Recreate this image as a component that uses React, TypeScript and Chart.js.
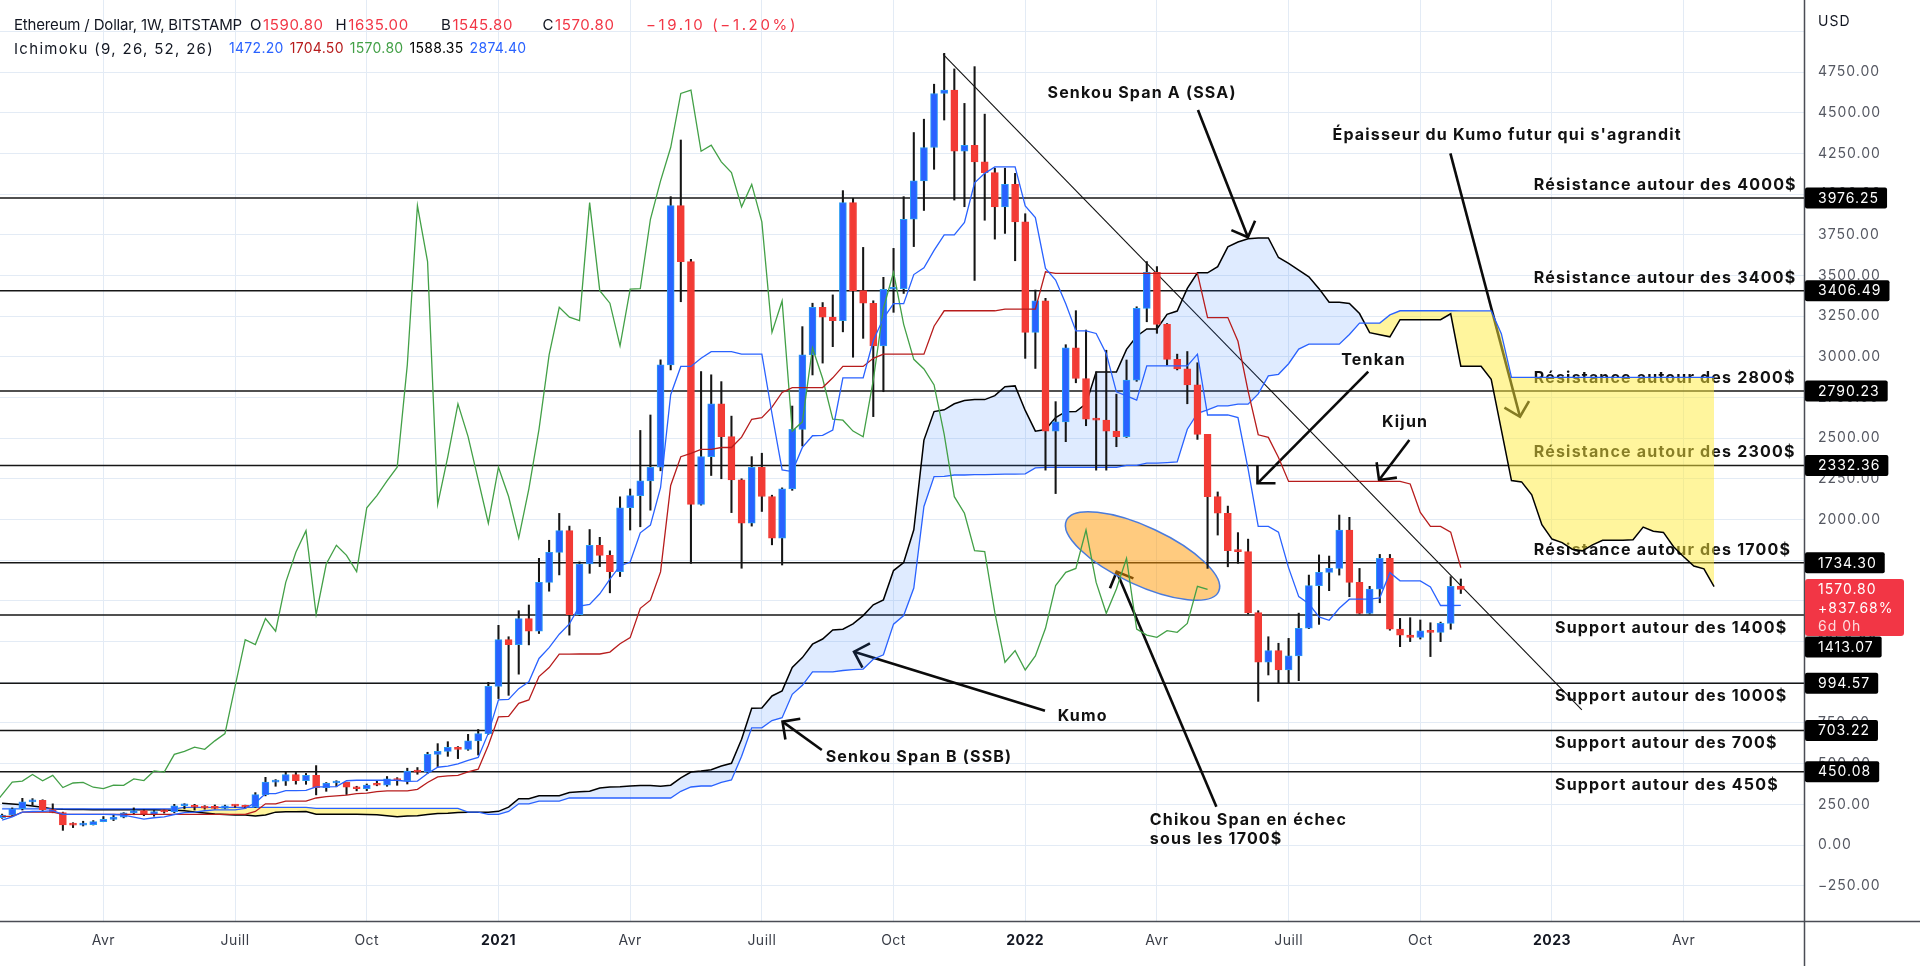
import { useEffect, useRef } from "react";
import { Chart, registerables } from "chart.js";

Chart.register(...registerables);

// ---------------- DATA (weekly candles, ETH/USD Bitstamp, week of 27 Jan 2020 -> 31 Oct 2022) ----------------
const opens = [168,184,223,265,274,217,200,123,122,125,
144,158,171,197,211,187,206,204,241,244,
232,227,225,240,239,232,310,386,393,433,
395,428,353,381,385,355,346,368,367,406,
396,455,448,557,575,601,588,640,685,975,
1262,1232,1392,1314,1614,1799,1932,1416,1727,1842,
1780,1680,2073,2147,2238,2322,2951,3930,3586,2094,
2387,2711,2510,2244,1978,2322,2142,1886,2189,2555,
3012,3305,3244,3223,3948,3407,3330,3068,3416,3420,
3846,4082,4287,4619,4640,4264,4301,4199,4133,3922,
4060,3830,3151,3344,2544,2601,3055,2867,2617,2611,
2544,2509,2857,3298,3520,3200,2985,2926,2828,2524,
2141,2039,1809,1803,1428,1123,1195,1076,1162,1332,
1594,1676,1700,1936,1614,1424,1573,1762,1327,1290,
1276,1317,1307,1362,1590.8];

const highs = [190,228,287,285,278,253,202,137,146,150,
175,187,199,228,216,212,215,250,254,250,
242,246,245,246,245,322,416,402,449,446,
440,488,384,395,386,361,375,395,421,414,
472,476,570,623,635,605,680,710,1000,1350,
1280,1440,1475,1762,1873,2038,1960,1740,1939,1891,
1808,2140,2188,2548,2643,2982,3985,4333,3600,2910,
2890,2848,2636,2251,2387,2408,2150,2195,2698,3186,
3330,3334,3381,4022,3975,3673,3345,3489,3667,3985,
4379,4461,4676,4866,4770,4558,4784,4492,4160,4160,
4128,3880,3411,3360,2725,3075,3284,3165,2908,3041,
2771,2981,3308,3586,3555,3205,3017,3033,2964,2524,
2170,2083,1920,1880,1440,1280,1240,1270,1425,1659,
1783,1776,2028,2014,1700,1590,1786,1786,1393,1397,
1383,1366,1370,1649,1635];

const lows = [164,180,215,244,212,198,90,107,117,123,
143,150,167,186,180,177,196,198,222,215,
220,220,222,232,226,230,302,361,366,374,
373,308,330,358,310,333,334,364,361,367,
375,435,440,482,545,531,582,553,680,900,
920,1050,1230,1300,1560,1660,1290,1410,1670,1711,
1550,1650,1936,1956,2058,2300,2920,3339,1731,2089,
2271,2251,2043,1701,1960,2050,1845,1721,2180,2452,
2889,2962,3063,3154,2998,3114,2633,2786,3274,3390,
3678,3900,4153,4456,3964,3923,3470,3840,3724,3759,
3591,2991,2929,2304,2160,2479,2841,2577,2304,2304,
2448,2505,2850,3216,3145,2950,2920,2712,2493,1700,
1905,1710,1731,1420,882.8,1045,994,994,1010,1330,
1356,1563,1659,1526,1420,1420,1489,1320,1219,1250,
1266,1158,1250,1326,1545.8];

const closes = [184,223,265,274,217,200,123,122,125,144,
158,171,197,211,187,206,204,241,244,232,
227,225,240,239,232,310,386,393,433,395,
428,353,381,385,355,346,368,367,406,396,
455,448,557,575,601,588,640,685,975,1262,
1232,1392,1314,1614,1799,1932,1416,1727,1842,1780,
1680,2073,2147,2238,2322,2951,3930,3586,2094,2387,
2711,2510,2244,1978,2322,2142,1886,2189,2555,3012,
3305,3244,3223,3948,3407,3330,3068,3416,3420,3846,
4082,4287,4619,4640,4264,4301,4199,4133,3922,4060,
3830,3151,3344,2544,2601,3055,2867,2617,2611,2544,
2509,2857,3298,3520,3200,2985,2926,2828,2524,2141,
2039,1809,1803,1428,1123,1195,1076,1162,1332,1594,
1676,1700,1936,1614,1424,1573,1762,1327,1290,1276,
1317,1307,1362,1589.9,1570.8];

// Ichimoku (9, 26, 52, 26)
const tenkan = [153.5,172.5,202,206,207,210.5,188.5,188.5,188.5,188.5,
188.5,187.5,184,171.5,159,167.5,172.5,187.5,198.5,202,
210.5,215.5,215.5,215.5,225,260,315.5,315.5,334.5,334.5,
335.5,357,357,359,395,398,398,398,398,398,
391,393,440,478,484.5,498,520.5,538.5,687.5,892.5,
895,961,1003,1146.5,1213,1295.5,1359,1469,1479,1544,
1634,1715,1739,1919,1966.5,2196,2767.5,2941.5,2941.5,2991.5,
3032,3032,3032,3017,3017,3017,2650.5,2305.5,2295.5,2443.5,
2515.5,2517.5,2551,2871.5,2871.5,2871.5,3101,3237,3327.5,3327.5,
3506,3547,3654.5,3749.5,3749.5,3826,4070,4128,4168,4168,
4168,3928.5,3856.5,3544,3472,3326,3160,3160,3144,3020,
2785.5,2760,2734,2945,2945,2945,2945,2945,3017,2643,
2643,2643,2627.5,2312.5,1957.9,1957.9,1923.4,1703.4,1526.4,1482.9,
1401.4,1381.4,1455.4,1511,1511,1511,1519,1674,1623.5,1623.5,
1623.5,1586,1472,1472,1472.2];

const kijun = [176,176,202,202,202,202,188.5,188.5,188.5,188.5,
188.5,188.5,188.5,188.5,188.5,188.5,188.5,188.5,188.5,188.5,
188.5,188.5,188.5,188.5,188.5,206,253,253,269.5,269.5,
269.5,289,297.5,302.5,306.5,315.5,319,327.5,332.5,332.5,
332.5,342,384,419,425,427.5,450,466,613,788,
790,871,891.5,1035,1090.5,1173,1173,1174,1174,1174,
1185.5,1237,1274.5,1454.5,1505,1678.5,2210,2386.5,2407.5,2432,
2432,2443,2443,2506.5,2616.5,2626.5,2691.5,2781.5,2811.5,2811.5,
2811.5,2811.5,2871.5,2941.5,2941.5,2941.5,2991.5,3017,3017,3017,
3017,3017,3188.5,3283.5,3283.5,3283.5,3283.5,3283.5,3283.5,3293.5,
3293.5,3293.5,3293.5,3523,3513,3513,3513,3513,3513,3513,
3513,3513,3513,3513,3513,3513,3513,3513,3513,3242,
3242,3242,3096,2790,2521.4,2505.4,2381.4,2234.4,2234.4,2234.4,
2234.4,2234.4,2234.4,2234.4,2234.4,2234.4,2234.4,2234.4,2234.4,2218.9,
2043.9,1957.9,1957.9,1923.4,1704.5];

// Senkou spans, one value per displayed bar (0 .. 169, i.e. 25 bars beyond the last candle)
const senkouA = [256,252,247,240,232,222,219,218,218,217,
217,217,217,216,216,216,215,214,210,203,
196,190,187,185,184,178,185,202,204,204.5,
206.25,188.5,188.5,188.5,188.5,188.5,188,186.25,180,173.75,
178,180.5,188,193.5,195.25,199.5,202,202,202,206.75,
233,284.25,284.25,302,302,302.5,323,327.25,330.75,350.75,
356.75,358.5,362.75,365.25,365.25,361.75,367.5,412,448.5,454.75,
462.75,485.25,502.25,650.25,840.25,842.5,916,947.25,1090.75,1151.75,
1234.25,1266,1321.5,1326.5,1359,1409.75,1476,1506.75,1686.75,1735.75,
1937.25,2488.75,2664,2674.5,2711.75,2732,2737.5,2737.5,2761.75,2816.75,
2821.75,2671,2543.5,2553.5,2627.5,2663.5,2664.5,2711.25,2906.5,2906.5,
2906.5,3046.25,3127,3172.25,3172.25,3261.5,3282,3421.5,3516.5,3516.5,
3554.75,3676.75,3705.75,3725.75,3730.75,3730.75,3611,3575,3533.5,3492.5,
3419.5,3336.5,3336.5,3328.5,3266.5,3149.25,3136.5,3123.5,3229,3229,
3229,3229,3229,3265,2942.5,2942.5,2942.5,2861.75,2551.25,2239.65,
2231.65,2152.4,1968.9,1880.4,1858.65,1817.9,1807.9,1844.9,1872.7,1872.7,
1872.7,1876.7,1954.2,1928.95,1921.2,1833.7,1771.95,1714.95,1697.7,1588.35];

const senkouB = [221.5,221.5,221.5,221.5,221.5,221.5,221.5,221.5,221.5,221.5,
221.5,221.5,221.5,221.5,221.5,221.5,221.5,221.5,231.5,231.5,
231.5,231.5,231.5,231.5,231.5,231.5,231.5,231.5,231.5,231.5,
231.5,225.5,225.5,225.5,225.5,225.5,225.5,225.5,225.5,225.5,
225.5,225.5,225.5,225.5,225.5,225.5,202.5,202.5,188.5,188.5,
206,253,253,269.5,269.5,269.5,289,289,289,289,
289,289,289,289,289,289,289,330,356.5,362.5,
362.5,385,400,545,720,720,765,782.5,926,981.5,
1064,1064,1064,1072.5,1077.5,1081.5,1141.5,1169,1357.5,1410,
1579.5,2081,2264.5,2265.5,2274,2274,2276.5,2276.5,2277.5,2279.5,
2279.5,2281.5,2317.5,2320.5,2320.5,2320.5,2320.5,2320.5,2321.5,2321.5,
2321.5,2333,2333.5,2347,2347,2350,2354,2555.5,2653,2674,
2698.5,2698.5,2709.5,2709.5,2773,2883,2893,2958,3048,3078,
3078,3078,3078,3138,3208,3208,3208,3258,3283.5,3283.5,
3283.5,3283.5,3283.5,3283.5,3283,3283,3283,3283,3143,2874.4,
2874.4,2874.4,2874.4,2874.4,2874.4,2874.4,2874.4,2874.4,2874.4,2874.4,
2874.4,2874.4,2874.4,2874.4,2874.4,2874.4,2874.4,2874.4,2874.4,2874.4];

const CHIKOU_LAG = 25; // lagging span plotted 25 bars back

// time axis: bar index of the first weekly bar of each labelled month
const tickIndex = [10, 23, 36, 49, 62, 75, 88, 101, 114, 127, 140, 153, 166];
const tickLabels = ["Avr", "Juill", "Oct", "2021", "Avr", "Juill", "Oct", "2022", "Avr", "Juill", "Oct", "2023", "Avr"];

const yTicks = [-250, 0, 250, 500, 750, 1000, 1250, 1500, 1750, 2000, 2250, 2500, 2750, 3000, 3250, 3500, 3750, 4000, 4250, 4500, 4750, 5000];

const levelPrices = [3976.25, 3406.49, 2790.23, 2332.36, 1734.30, 1413.07, 994.57, 703.22, 450.08];
const levelTexts = [
  "Résistance autour des 4000$",
  "Résistance autour des 3400$",
  "Résistance autour des 2800$",
  "Résistance autour des 2300$",
  "Résistance autour des 1700$",
  "Support autour des 1400$",
  "Support autour des 1000$",
  "Support autour des 700$",
  "Support autour des 450$",
];

// annotations anchored in data space: [bar index, price]
const notes = [
  { text: "Senkou Span A (SSA)", at: [112.53, 4620], align: "center" },
  { text: "Épaisseur du Kumo futur qui s'agrandit", at: [131.33, 4364], align: "left" },
  { text: "Tenkan", at: [135.38, 2981], align: "center" },
  { text: "Kijun", at: [138.5, 2596], align: "center" },
  { text: "Kumo", at: [106.67, 793], align: "center" },
  { text: "Senkou Span B (SSB)", at: [90.51, 541], align: "center" },
  { text: "Chikou Span en échec", at: [113.3, 153], align: "left" },
  { text: "sous les 1700$", at: [113.3, 37], align: "left" },
];
const arrows = [
  { from: [118.05, 4517], to: [122.98, 3735] },
  { from: [142.97, 4251], to: [149.84, 2632] },
  { from: [134.86, 2909], to: [123.93, 2223] },
  { from: [138.92, 2489], to: [135.93, 2243] },
  { from: [102.95, 825], to: [84.1, 1188] },
  { from: [80.92, 584], to: [77.04, 758] },
  { from: [119.87, 235], to: [110.03, 1680] },
];
const trendLine = [[92.9, 4860], [155.95, 830]];
const ellipseCenter = [112.58, 1776];

// ---------------- STYLE ----------------
const FONT = '"Inter", "Noto Sans", "DejaVu Sans", sans-serif';
const UP = "#2962ff";
const UP_BORDER = "#2b9cf2";
const DOWN = "#f23b35";
const GRID = "#e3ebf5";
const TEXT = "#131722";
const RED = "#f23645";

function setLS(ctx: any, v: number) {
  ctx.letterSpacing = v + "px";
}

function drawArrow(ctx: any, x1: number, y1: number, x2: number, y2: number) {
  ctx.beginPath();
  ctx.moveTo(x1, y1);
  ctx.lineTo(x2, y2);
  ctx.stroke();
  const ang = Math.atan2(y1 - y2, x1 - x2);
  const L = 18;
  ctx.beginPath();
  ctx.moveTo(x2 + L * Math.cos(ang + Math.PI / 4), y2 + L * Math.sin(ang + Math.PI / 4));
  ctx.lineTo(x2, y2);
  ctx.lineTo(x2 + L * Math.cos(ang - Math.PI / 4), y2 + L * Math.sin(ang - Math.PI / 4));
  ctx.stroke();
}

function rrect(ctx: any, x: number, y: number, w: number, h: number, r: number) {
  ctx.beginPath();
  if (ctx.roundRect) ctx.roundRect(x, y, w, h, r);
  else ctx.rect(x, y, w, h);
  ctx.fill();
}

function fitLS(ctx: any, text: string, target: number) {
  setLS(ctx, 0);
  const w = ctx.measureText(text).width;
  return Math.max(-0.5, Math.min(3, (target - w) / text.length));
}

// draws a legend row: items are lists of [text, colour] parts, spread so the row spans [x0, x1]
function legendRow(ctx: any, items: string[][][], x0: number, x1: number, y: number) {
  const widths = items.map((parts) => parts.reduce((s, p) => s + ctx.measureText(p[0]).width, 0));
  const total = widths.reduce((a, b) => a + b, 0);
  const gap = Math.max(6, (x1 - x0 - total) / (items.length - 1));
  let x = x0;
  items.forEach((parts, k) => {
    let xx = x;
    for (const p of parts) {
      ctx.fillStyle = p[1];
      ctx.fillText(p[0], xx, y);
      xx += ctx.measureText(p[0]).width;
    }
    x += widths[k] + gap;
  });
}

const overlay = {
  id: "overlay",
  beforeDatasetsDraw(chart: any) {
    const { ctx, chartArea: ca } = chart;
    const X = (v: number) => chart.scales.x.getPixelForValue(v);
    const Y = (v: number) => chart.scales.y.getPixelForValue(v);
    ctx.save();
    ctx.beginPath();
    ctx.rect(ca.left, ca.top, ca.right - ca.left, ca.bottom - ca.top);
    ctx.clip();

    // horizontal support / resistance lines
    ctx.strokeStyle = "#161616";
    ctx.lineWidth = 1.5;
    for (const p of levelPrices) {
      const yy = Y(p);
      ctx.beginPath();
      ctx.moveTo(ca.left, yy);
      ctx.lineTo(ca.right, yy);
      ctx.stroke();
    }
    // trend line
    ctx.lineWidth = 1.1;
    ctx.strokeStyle = "#111";
    ctx.beginPath();
    ctx.moveTo(X(trendLine[0][0]), Y(trendLine[0][1]));
    ctx.lineTo(X(trendLine[1][0]), Y(trendLine[1][1]));
    ctx.stroke();

    // arrows
    ctx.lineWidth = 2.6;
    ctx.strokeStyle = "#0b0b0b";
    ctx.lineCap = "butt";
    ctx.lineJoin = "miter";
    for (const a of arrows) drawArrow(ctx, X(a.from[0]), Y(a.from[1]), X(a.to[0]), Y(a.to[1]));

    // texts
    ctx.font = `700 16px ${FONT}`;
    setLS(ctx, fitLS(ctx, levelTexts[0], 263));
    ctx.fillStyle = "#111";
    ctx.textBaseline = "middle";
    ctx.textAlign = "left";
    levelTexts.forEach((t, k) => {
      const isRes = k < 5;
      const xLeft = isRes ? X(151.2) : X(153.3);
      ctx.fillText(t, xLeft, Y(levelPrices[k]) + (isRes ? -13 : 13));
    });
    for (const n of notes) {
      ctx.textAlign = n.align;
      ctx.fillText(n.text, X(n.at[0]), Y(n.at[1]));
    }
    setLS(ctx, 0);

    // orange ellipse
    ctx.beginPath();
    ctx.ellipse(X(ellipseCenter[0]), Y(ellipseCenter[1]), 84, 29, (25 * Math.PI) / 180, 0, Math.PI * 2);
    ctx.fillStyle = "rgba(255,152,0,0.5)";
    ctx.fill();
    ctx.lineWidth = 1.5;
    ctx.strokeStyle = "#4a7bdc";
    ctx.stroke();
    ctx.restore();
  },
  afterDraw(chart: any) {
    const { ctx, chartArea: ca } = chart;
    const X = (v: number) => chart.scales.x.getPixelForValue(v);
    const Y = (v: number) => chart.scales.y.getPixelForValue(v);
    ctx.save();

    // axis separator lines
    ctx.strokeStyle = "#4a4d55";
    ctx.lineWidth = 1.5;
    ctx.beginPath();
    ctx.moveTo(ca.right + 0.5, 0);
    ctx.lineTo(ca.right + 0.5, chart.height);
    ctx.stroke();
    ctx.beginPath();
    ctx.moveTo(0, ca.bottom + 0.5);
    ctx.lineTo(chart.width, ca.bottom + 0.5);
    ctx.stroke();

    // price axis tick labels
    ctx.font = `14px ${FONT}`;
    setLS(ctx, 1);
    ctx.textBaseline = "middle";
    ctx.textAlign = "left";
    ctx.fillStyle = "#555862";
    for (const v of yTicks) {
      if (v >= 5000) continue;
      const s = (v < 0 ? "\u2212" : "") + Math.abs(v).toFixed(2);
      ctx.fillText(s, ca.right + 14, Y(v));
    }
    ctx.fillStyle = TEXT;
    ctx.fillText("USD", ca.right + 14, 22);

    // current price box
    const last = closes[closes.length - 1];
    const redTop = Y(last) - 10.5;
    const redH = 57;
    // level boxes
    for (const p of levelPrices) {
      let cy = Y(p);
      if (cy + 10.5 > redTop && cy - 10.5 < redTop + redH) {
        cy = cy > redTop + redH / 2 ? redTop + redH + 11 : redTop - 11;
      }
      const s = p.toFixed(2);
      const w = ctx.measureText(s).width;
      ctx.fillStyle = "#000";
      rrect(ctx, ca.right + 1, cy - 10.5, w + 21, 21, 2);
      ctx.fillStyle = "#fff";
      ctx.fillText(s, ca.right + 14, cy + 0.5);
    }
    ctx.fillStyle = RED;
    rrect(ctx, ca.right + 1, redTop, 99, redH, 3);
    ctx.fillStyle = "#fff";
    ctx.fillText(last.toFixed(2), ca.right + 14, redTop + 11);
    ctx.fillText("+837.68%", ca.right + 14, redTop + 29.5);
    ctx.fillStyle = "rgba(255,255,255,0.82)";
    ctx.fillText("6d 0h", ca.right + 14, redTop + 47.5);

    // time axis labels
    ctx.textAlign = "center";
    setLS(ctx, 0.5);
    tickIndex.forEach((t, k) => {
      const lab = tickLabels[k];
      const isYear = /^\d{4}$/.test(lab);
      ctx.font = `${isYear ? "700 " : ""}14px ${FONT}`;
      ctx.fillStyle = isYear ? TEXT : "#3a3e48";
      ctx.fillText(lab, X(t), ca.bottom + 19.5);
    });

    // legend / header
    const n = closes.length - 1;
    const change = closes[n] - closes[n - 1];
    const pct = (change / closes[n - 1]) * 100;
    const signed = (v: number) => (v < 0 ? "\u2212" : "+") + Math.abs(v).toFixed(2);
    ctx.textAlign = "left";
    ctx.textBaseline = "middle";

    // line 1
    ctx.font = `15px ${FONT}`;
    const title = "Ethereum / Dollar, 1W, BITSTAMP";
    setLS(ctx, fitLS(ctx, title, 228));
    ctx.fillStyle = TEXT;
    ctx.fillText(title, 14, 25);
    ctx.font = `15px ${FONT}`;
    setLS(ctx, 0.6);
    const ohlc = [
      ["O", opens[n], 250],
      ["H", highs[n], 335.5],
      ["B", lows[n], 441],
      ["C", closes[n], 542.5],
    ];
    for (const [lab, val, x] of ohlc as any) {
      ctx.fillStyle = TEXT;
      ctx.fillText(lab, x, 25);
      const w = ctx.measureText(lab).width;
      ctx.fillStyle = RED;
      ctx.fillText(val.toFixed(2), x + w + 1, 25);
    }
    const chg = `${signed(change)} (${signed(pct)}%)`;
    setLS(ctx, fitLS(ctx, chg, 152));
    ctx.fillStyle = RED;
    ctx.fillText(chg, 646, 25);

    // line 2
    ctx.font = `15px ${FONT}`;
    const ichi = "Ichimoku (9, 26, 52, 26)";
    setLS(ctx, fitLS(ctx, ichi, 200));
    ctx.fillStyle = TEXT;
    ctx.fillText(ichi, 14, 49);
    ctx.font = `14px ${FONT}`;
    setLS(ctx, 0.3);
    legendRow(
      ctx,
      [
        [[tenkan[n].toFixed(2), "#2962ff"]],
        [[kijun[n].toFixed(2), "#b71c1c"]],
        [[closes[n].toFixed(2), "#43a047"]],
        [[senkouA[senkouA.length - 1].toFixed(2), "#000000"]],
        [[senkouB[senkouB.length - 1].toFixed(2), "#2962ff"]],
      ],
      229,
      487,
      49
    );
    setLS(ctx, 0);
    ctx.restore();
  },
};

export default function App() {
  const ref = useRef<HTMLCanvasElement>(null);
  useEffect(() => {
    document.body.style.margin = "0";
    document.body.style.overflow = "hidden";
    document.body.style.background = "#ffffff";
    const canvas = ref.current as HTMLCanvasElement;

    const bodyColors = opens.map((o, i) => (closes[i] >= o ? UP : DOWN));
    const bodyBorders = opens.map((o, i) => (closes[i] >= o ? UP_BORDER : DOWN));

    const chart = new Chart(canvas, {
      type: "bar",
      data: {
        datasets: [
          {
            type: "line",
            label: "SSA",
            data: senkouA.map((v, j) => ({ x: j, y: v })),
            borderColor: "#000000",
            borderWidth: 1.5,
            pointRadius: 0,
            fill: { target: 1, above: "rgba(41,121,255,0.15)", below: "rgba(255,235,59,0.5)" },
            order: 7,
          },
          {
            type: "line",
            label: "SSB",
            data: senkouB.map((v, j) => ({ x: j, y: v })),
            borderColor: "#2962ff",
            borderWidth: 1.3,
            pointRadius: 0,
            fill: false,
            order: 6,
          },
          {
            type: "bar",
            label: "wicks",
            data: highs.map((h, i) => ({ x: i, y: [lows[i], h] })),
            backgroundColor: "#151515",
            barThickness: 1.4,
            grouped: false,
            order: 5,
          },
          {
            type: "bar",
            label: "bodies",
            data: opens.map((o, i) => ({ x: i, y: [o, closes[i]] })),
            backgroundColor: bodyColors,
            borderColor: bodyBorders,
            borderWidth: 1,
            borderSkipped: false,
            barThickness: 7,
            minBarLength: 2,
            grouped: false,
            order: 4,
          },
          {
            type: "line",
            label: "Chikou",
            data: closes.map((c, i) => ({ x: i - CHIKOU_LAG, y: c })),
            borderColor: "#43a047",
            borderWidth: 1.3,
            pointRadius: 0,
            fill: false,
            order: 3,
          },
          {
            type: "line",
            label: "Kijun",
            data: kijun.map((v, i) => ({ x: i, y: v })),
            borderColor: "#b71c1c",
            borderWidth: 1.3,
            pointRadius: 0,
            fill: false,
            order: 2,
          },
          {
            type: "line",
            label: "Tenkan",
            data: tenkan.map((v, i) => ({ x: i, y: v })),
            borderColor: "#2962ff",
            borderWidth: 1.3,
            pointRadius: 0,
            fill: false,
            order: 1,
          },
        ],
      } as any,
      options: {
        animation: false,
        responsive: false,
        maintainAspectRatio: false,
        devicePixelRatio: 1,
        events: [],
        layout: { padding: 0 },
        plugins: { legend: { display: false }, tooltip: { enabled: false } },
        scales: {
          x: {
            type: "linear",
            min: -0.2073,
            max: 177.877,
            offset: false,
            afterBuildTicks: (s: any) => {
              s.ticks = tickIndex.map((v) => ({ value: v }));
            },
            ticks: { display: false },
            grid: { color: GRID, drawTicks: false, lineWidth: 1, offset: false },
            border: { display: false },
            afterFit: (s: any) => {
              s.height = 45;
            },
          },
          y: {
            type: "linear",
            position: "right",
            min: -467.1,
            max: 5193.6,
            afterBuildTicks: (s: any) => {
              s.ticks = yTicks.map((v) => ({ value: v }));
            },
            ticks: { display: false },
            grid: { color: GRID, drawTicks: false, lineWidth: 1 },
            border: { display: false },
            afterFit: (s: any) => {
              s.width = 116;
            },
          },
        },
      } as any,
      plugins: [overlay as any],
    });
    return () => chart.destroy();
  }, []);
  return <canvas ref={ref} width={1920} height={966} style={{ display: "block", width: 1920, height: 966 }} />;
}
